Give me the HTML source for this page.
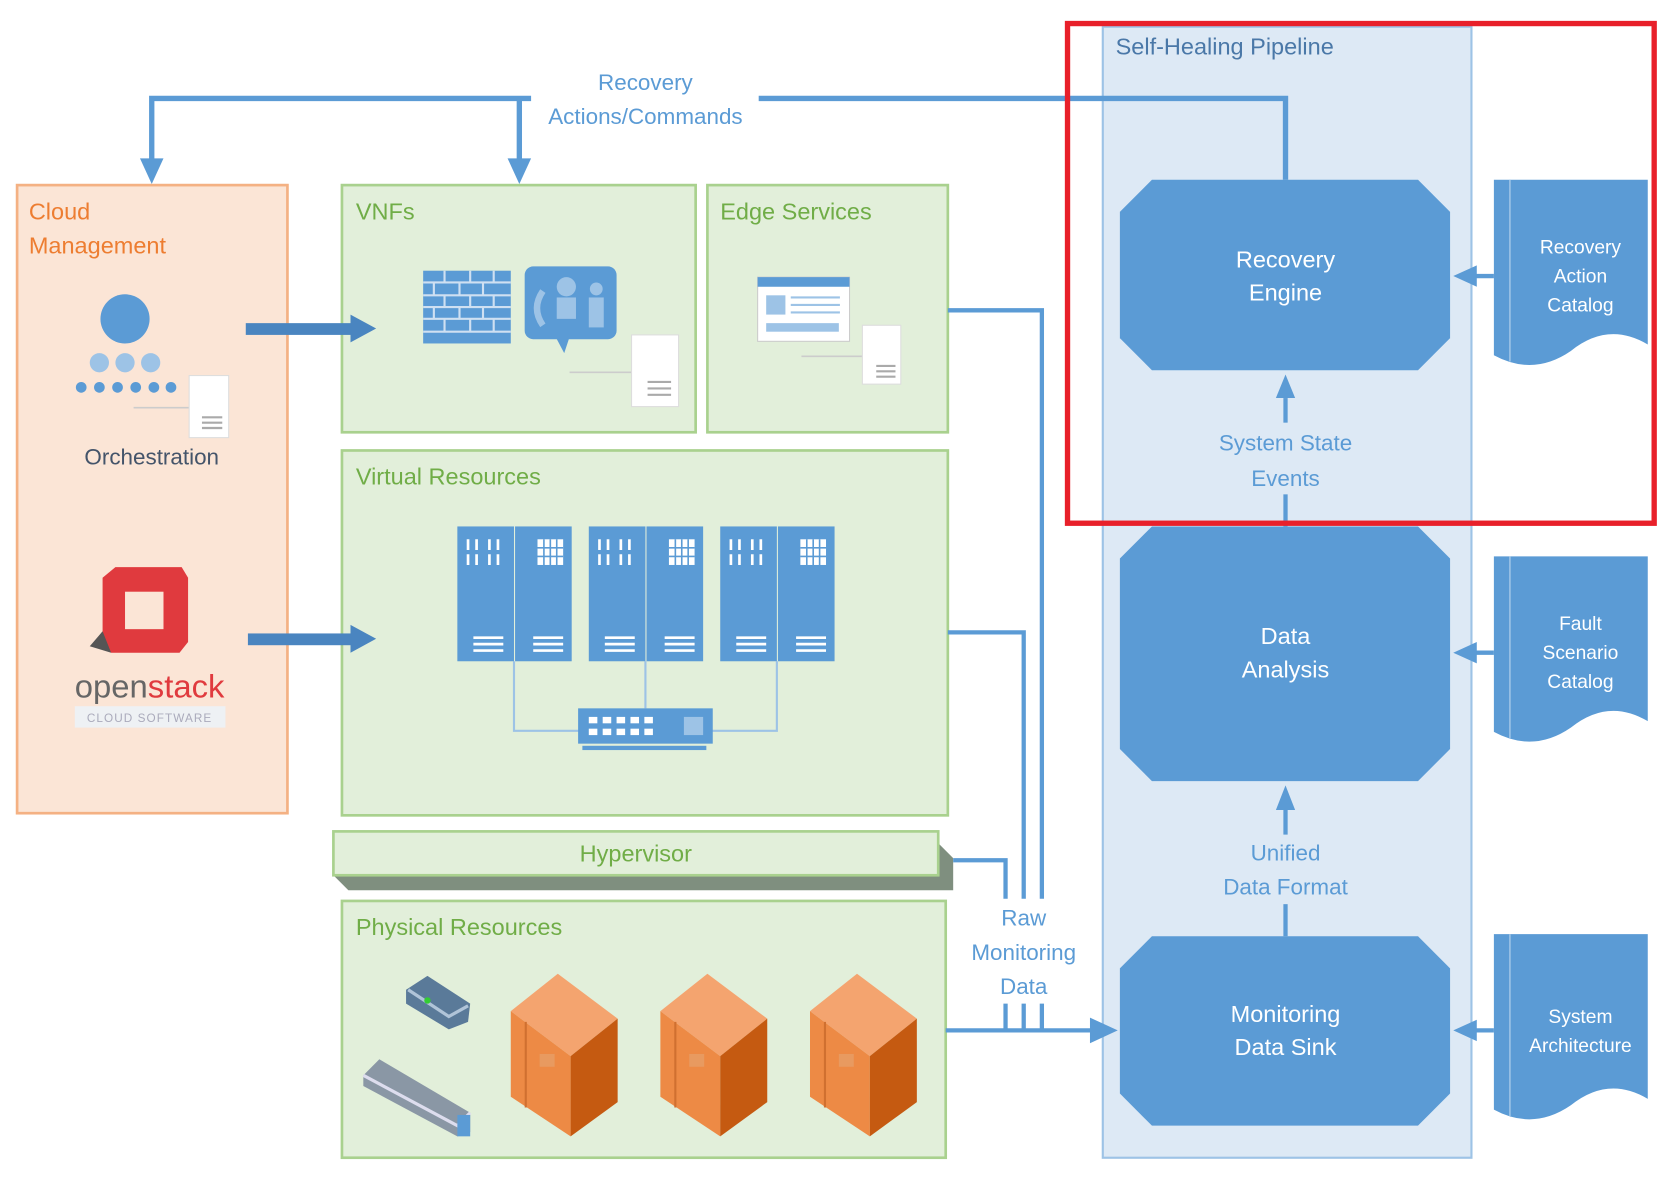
<!DOCTYPE html>
<html><head><meta charset="utf-8"><style>
html,body{margin:0;padding:0;background:#fff}
svg{display:block}
text{font-family:"Liberation Sans Narrow","Liberation Sans",sans-serif}
</style></head><body>
<svg width="1667" height="1177" viewBox="0 0 1560 1100" preserveAspectRatio="none" xmlns="http://www.w3.org/2000/svg">
<!-- pipeline column -->
<rect x="1032" y="25" width="345" height="1057" fill="#dde9f5" stroke="#9dc3e6" stroke-width="2"/>
<text x="1044" y="51" font-size="22" fill="#4a78a8">Self-Healing Pipeline</text>

<!-- top connector -->
<g stroke="#5b9bd5" stroke-width="5" fill="none">
<path d="M497,92 H142 V155"/>
<path d="M486,92 V155"/>
<path d="M710,92 H1203 V168"/>
</g>
<path d="M131,148 L153,148 L142,172 Z" fill="#5b9bd5"/>
<path d="M475,148 L497,148 L486,172 Z" fill="#5b9bd5"/>
<text x="604" y="84" font-size="21" fill="#5b9bd5" text-anchor="middle">Recovery</text>
<text x="604" y="116" font-size="21" fill="#5b9bd5" text-anchor="middle">Actions/Commands</text>

<!-- Cloud management -->
<rect x="16" y="173" width="253" height="587" fill="#fbe5d6" stroke="#f4b183" stroke-width="2.5"/>
<text x="27" y="205" font-size="22" fill="#ed7d31">Cloud</text>
<text x="27" y="237" font-size="22" fill="#ed7d31">Management</text>
<circle cx="117" cy="298" r="23" fill="#5b9bd5"/>
<g fill="#9dc3e6"><circle cx="93" cy="339" r="9"/><circle cx="117" cy="339" r="9"/><circle cx="141" cy="339" r="9"/></g>
<g fill="#5b9bd5"><circle cx="76" cy="362" r="5"/><circle cx="93" cy="362" r="5"/><circle cx="110" cy="362" r="5"/><circle cx="127" cy="362" r="5"/><circle cx="144" cy="362" r="5"/><circle cx="160" cy="362" r="5"/></g>
<line x1="125" y1="381" x2="180" y2="381" stroke="#ccc" stroke-width="1.5"/>
<rect x="177" y="351" width="37" height="58" fill="#fff" stroke="#ddd"/>
<g stroke="#aaa" stroke-width="2"><line x1="189" y1="390" x2="208" y2="390"/><line x1="189" y1="395" x2="208" y2="395"/><line x1="189" y1="400" x2="208" y2="400"/></g>
<text x="142" y="434" font-size="21" fill="#44546a" text-anchor="middle">Orchestration</text>
<!-- openstack logo -->
<path d="M96,540 L108,530 L170,530 L176,540 L176,600 L168,610 L104,610 L96,600 Z" fill="#e03a3e"/>
<rect x="117" y="553" width="36" height="35" fill="#fbe5d6"/>
<path d="M84,604 L96,590 L104,610 Z" fill="#555"/>
<text x="140" y="652" font-size="30" fill="#666" text-anchor="middle" textLength="140" lengthAdjust="spacingAndGlyphs"><tspan>open</tspan><tspan fill="#e03a3e">stack</tspan></text>
<rect x="70" y="660" width="141" height="20" fill="#eef1f4"/>
<text x="140" y="675" font-size="11" fill="#aab" text-anchor="middle" letter-spacing="1">CLOUD SOFTWARE</text>

<!-- VNFs -->
<rect x="320" y="173" width="331" height="231" fill="#e2efda" stroke="#a9d18e" stroke-width="2.5"/>
<text x="333" y="205" font-size="22" fill="#70ad47">VNFs</text>
<rect x="396" y="253" width="82" height="68" fill="#5b9bd5"/>
<g stroke="#cfe0f2" stroke-width="2">
<line x1="396" y1="264" x2="478" y2="264"/><line x1="396" y1="276" x2="478" y2="276"/><line x1="396" y1="287" x2="478" y2="287"/><line x1="396" y1="298" x2="478" y2="298"/><line x1="396" y1="310" x2="478" y2="310"/>
<line x1="416" y1="253" x2="416" y2="264"/><line x1="440" y1="253" x2="440" y2="264"/><line x1="462" y1="253" x2="462" y2="264"/>
<line x1="406" y1="264" x2="406" y2="276"/><line x1="430" y1="264" x2="430" y2="276"/><line x1="452" y1="264" x2="452" y2="276"/>
<line x1="416" y1="276" x2="416" y2="287"/><line x1="440" y1="276" x2="440" y2="287"/><line x1="462" y1="276" x2="462" y2="287"/>
<line x1="406" y1="287" x2="406" y2="298"/><line x1="430" y1="287" x2="430" y2="298"/><line x1="452" y1="287" x2="452" y2="298"/>
<line x1="416" y1="298" x2="416" y2="310"/><line x1="440" y1="298" x2="440" y2="310"/><line x1="462" y1="298" x2="462" y2="310"/>
</g>
<rect x="491" y="249" width="86" height="68" rx="8" fill="#5b9bd5"/>
<path d="M520,315 L528,330 L533,315 Z" fill="#5b9bd5"/>
<circle cx="530" cy="268" r="9" fill="#9dc3e6"/><rect x="521" y="278" width="18" height="20" fill="#9dc3e6"/>
<circle cx="558" cy="270" r="6" fill="#9dc3e6"/><rect x="551" y="278" width="14" height="28" fill="#9dc3e6"/>
<path d="M508,272 Q497,288 508,304" stroke="#9dc3e6" stroke-width="6" fill="none"/>
<line x1="533" y1="348" x2="592" y2="348" stroke="#ccc" stroke-width="1.5"/>
<rect x="591" y="313" width="44" height="67" fill="#fff" stroke="#ddd"/>
<g stroke="#aaa" stroke-width="2"><line x1="606" y1="357" x2="628" y2="357"/><line x1="606" y1="363" x2="628" y2="363"/><line x1="606" y1="369" x2="628" y2="369"/></g>

<!-- Edge services -->
<rect x="662" y="173" width="225" height="231" fill="#e2efda" stroke="#a9d18e" stroke-width="2.5"/>
<text x="674" y="205" font-size="22" fill="#70ad47">Edge Services</text>
<rect x="709" y="259" width="86" height="60" fill="#fff" stroke="#ccc"/>
<rect x="709" y="259" width="86" height="9" fill="#5b9bd5"/>
<rect x="717" y="276" width="18" height="18" fill="#9dc3e6"/>
<g stroke="#9dc3e6" stroke-width="2"><line x1="740" y1="278" x2="786" y2="278"/><line x1="740" y1="285" x2="786" y2="285"/><line x1="740" y1="292" x2="786" y2="292"/></g>
<rect x="717" y="302" width="68" height="8" fill="#9dc3e6"/>
<line x1="750" y1="333" x2="808" y2="333" stroke="#ccc" stroke-width="1.5"/>
<rect x="807" y="304" width="36" height="55" fill="#fff" stroke="#ddd"/>
<g stroke="#aaa" stroke-width="2"><line x1="820" y1="342" x2="838" y2="342"/><line x1="820" y1="347" x2="838" y2="347"/><line x1="820" y1="352" x2="838" y2="352"/></g>

<!-- Virtual resources -->
<rect x="320" y="421" width="567" height="341" fill="#e2efda" stroke="#a9d18e" stroke-width="2.5"/>
<text x="333" y="453" font-size="22" fill="#70ad47">Virtual Resources</text>
<g stroke="#9dc3e6" stroke-width="2" fill="none">
<path d="M481,618 V683 H545"/><path d="M604,618 V662"/><path d="M727,618 V683 H665"/>
</g>
<g fill="#5b9bd5">
<rect x="428" y="492" width="53" height="126"/><rect x="482" y="492" width="53" height="126"/>
<rect x="551" y="492" width="53" height="126"/><rect x="605" y="492" width="53" height="126"/>
<rect x="674" y="492" width="53" height="126"/><rect x="728" y="492" width="53" height="126"/>
</g>
<g stroke="#fff" stroke-width="2.5">
<path d="M438,504v10M446,504v10M458,504v10M466,504v10M438,518v10M446,518v10M458,518v10M466,518v10"/>
<path d="M561,504v10M569,504v10M581,504v10M589,504v10M561,518v10M569,518v10M581,518v10M589,518v10"/>
<path d="M684,504v10M692,504v10M704,504v10M712,504v10M684,518v10M692,518v10M704,518v10M712,518v10"/>
<path d="M443,596h28M443,602h28M443,608h28M499,596h28M499,602h28M499,608h28"/>
<path d="M566,596h28M566,602h28M566,608h28M622,596h28M622,602h28M622,608h28"/>
<path d="M689,596h28M689,602h28M689,608h28M745,596h28M745,602h28M745,608h28"/>
</g>
<g fill="#fff"><rect x="503" y="504" width="24" height="24"/><rect x="626" y="504" width="24" height="24"/><rect x="749" y="504" width="24" height="24"/></g>
<g stroke="#5b9bd5" stroke-width="1.5"><path d="M509,504v24M515,504v24M521,504v24M503,512h24M503,520h24M632,504v24M638,504v24M644,504v24M626,512h24M626,520h24M755,504v24M761,504v24M767,504v24M749,512h24M749,520h24"/></g>
<rect x="541" y="662" width="126" height="33" fill="#5b9bd5"/>
<rect x="545" y="697" width="116" height="4" fill="#5b9bd5"/>
<g fill="#fff"><rect x="551" y="670" width="8" height="6"/><rect x="564" y="670" width="8" height="6"/><rect x="577" y="670" width="8" height="6"/><rect x="590" y="670" width="8" height="6"/><rect x="603" y="670" width="8" height="6"/>
<rect x="551" y="681" width="8" height="6"/><rect x="564" y="681" width="8" height="6"/><rect x="577" y="681" width="8" height="6"/><rect x="590" y="681" width="8" height="6"/><rect x="603" y="681" width="8" height="6"/>
<rect x="640" y="670" width="18" height="17" fill="#9dc3e6"/></g>

<!-- thick arrows (on top of boxes) -->
<g fill="#4a85c0">
<rect x="230" y="302" width="100" height="11"/><path d="M328,294 L352,307 L328,320 Z"/>
<rect x="232" y="592" width="98" height="11"/><path d="M328,584 L352,597 L328,610 Z"/>
</g>

<!-- Hypervisor -->
<path d="M312,818 L326,832 L892,832 L892,802 L878,788 L878,818 Z" fill="#7f8f7f"/>
<rect x="312" y="777" width="566" height="41" fill="#e2efda" stroke="#a9d18e" stroke-width="2.5"/>
<text x="595" y="805" font-size="22" fill="#70ad47" text-anchor="middle">Hypervisor</text>

<!-- Physical resources -->
<rect x="320" y="842" width="565" height="240" fill="#e2efda" stroke="#a9d18e" stroke-width="2.5"/>
<text x="333" y="874" font-size="22" fill="#70ad47">Physical Resources</text>
<path d="M380,925 L400,912 L440,938 L438,955 L420,962 L380,938 Z" fill="#5a7a99"/>
<path d="M382,925 L420,950 L438,940" stroke="#b0c4d8" stroke-width="3" fill="none"/>
<circle cx="400" cy="935" r="3" fill="#3c3"/>
<path d="M340,1005 L355,990 L440,1040 L440,1058 L428,1062 L340,1015 Z" fill="#8a97a5"/>
<path d="M340,1005 L428,1052 L440,1040" stroke="#dde" stroke-width="3" fill="none"/>
<rect x="428" y="1042" width="12" height="20" fill="#5b9bd5"/>
<g id="cab">
<path d="M478,945 L522,910 L578,952 L534,987 Z" fill="#f4a46f"/>
<path d="M478,945 L534,987 L534,1062 L478,1025 Z" fill="#ed8a45"/>
<path d="M534,987 L578,952 L578,1030 L534,1062 Z" fill="#c55a11"/>
<line x1="492" y1="955" x2="492" y2="1035" stroke="#d07030" stroke-width="2"/>
<rect x="505" y="985" width="14" height="12" fill="#e89a60"/>
</g>
<use href="#cab" x="140"/>
<use href="#cab" x="280"/>

<!-- raw monitoring connectors -->
<g stroke="#5b9bd5" stroke-width="4" fill="none">
<path d="M887,290 H975 V840"/>
<path d="M887,591 H958 V840"/>
<path d="M892,804 H941 V840"/>
<path d="M941,938 V963 M958,938 V963 M975,938 V963"/>
<path d="M885,963 H1025"/>
</g>
<path d="M1020,951 L1046,963 L1020,975 Z" fill="#5b9bd5"/>
<text x="958" y="865" font-size="21" fill="#5b9bd5" text-anchor="middle">Raw</text>
<text x="958" y="897" font-size="21" fill="#5b9bd5" text-anchor="middle">Monitoring</text>
<text x="958" y="929" font-size="21" fill="#5b9bd5" text-anchor="middle">Data</text>

<!-- pipeline nodes -->
<g fill="#5b9bd5">
<path d="M1078,168 H1327 L1357,198 V316 L1327,346 H1078 L1048,316 V198 Z"/>
<path d="M1078,492 H1327 L1357,522 V700 L1327,730 H1078 L1048,700 V522 Z"/>
<path d="M1078,875 H1327 L1357,905 V1022 L1327,1052 H1078 L1048,1022 V905 Z"/>
</g>
<g font-size="22" fill="#fff" text-anchor="middle">
<text x="1203" y="250">Recovery</text><text x="1203" y="281">Engine</text>
<text x="1203" y="602">Data</text><text x="1203" y="633">Analysis</text>
<text x="1203" y="955">Monitoring</text><text x="1203" y="986">Data Sink</text>
</g>
<g stroke="#5b9bd5" stroke-width="4">
<line x1="1203" y1="372" x2="1203" y2="395"/><line x1="1203" y1="462" x2="1203" y2="492"/>
<line x1="1203" y1="755" x2="1203" y2="780"/><line x1="1203" y1="845" x2="1203" y2="875"/>
</g>
<path d="M1194,372 L1203,350 L1212,372 Z" fill="#5b9bd5"/>
<path d="M1194,757 L1203,734 L1212,757 Z" fill="#5b9bd5"/>
<g font-size="21" fill="#5b9bd5" text-anchor="middle">
<text x="1203" y="421">System State</text><text x="1203" y="454">Events</text>
<text x="1203" y="804">Unified</text><text x="1203" y="836">Data Format</text>
</g>

<!-- documents -->
<g fill="#5b9bd5">
<path d="M1398,168 H1542 V322 Q1505,300 1470,328 Q1435,352 1398,332 Z"/>
<path d="M1398,520 H1542 V674 Q1505,652 1470,680 Q1435,704 1398,684 Z"/>
<path d="M1398,873 H1542 V1027 Q1505,1005 1470,1033 Q1435,1057 1398,1037 Z"/>
</g>
<g stroke="#9dc3e6" stroke-width="1.5"><line x1="1413" y1="168" x2="1413" y2="338"/><line x1="1413" y1="520" x2="1413" y2="690"/><line x1="1413" y1="873" x2="1413" y2="1043"/></g>
<g font-size="18" fill="#fff" text-anchor="middle">
<text x="1479" y="237">Recovery</text><text x="1479" y="264">Action</text><text x="1479" y="291">Catalog</text>
<text x="1479" y="589">Fault</text><text x="1479" y="616">Scenario</text><text x="1479" y="643">Catalog</text>
<text x="1479" y="956">System</text><text x="1479" y="983">Architecture</text>
</g>
<g stroke="#5b9bd5" stroke-width="4">
<line x1="1398" y1="258" x2="1375" y2="258"/><line x1="1398" y1="610" x2="1375" y2="610"/><line x1="1398" y1="963" x2="1375" y2="963"/>
</g>
<g fill="#5b9bd5">
<path d="M1382,248 L1360,258 L1382,268 Z"/><path d="M1382,600 L1360,610 L1382,620 Z"/><path d="M1382,953 L1360,963 L1382,973 Z"/>
</g>

<!-- red highlight -->
<rect x="999" y="22" width="549" height="467" fill="none" stroke="#e8202a" stroke-width="5"/>
</svg>
</body></html>
